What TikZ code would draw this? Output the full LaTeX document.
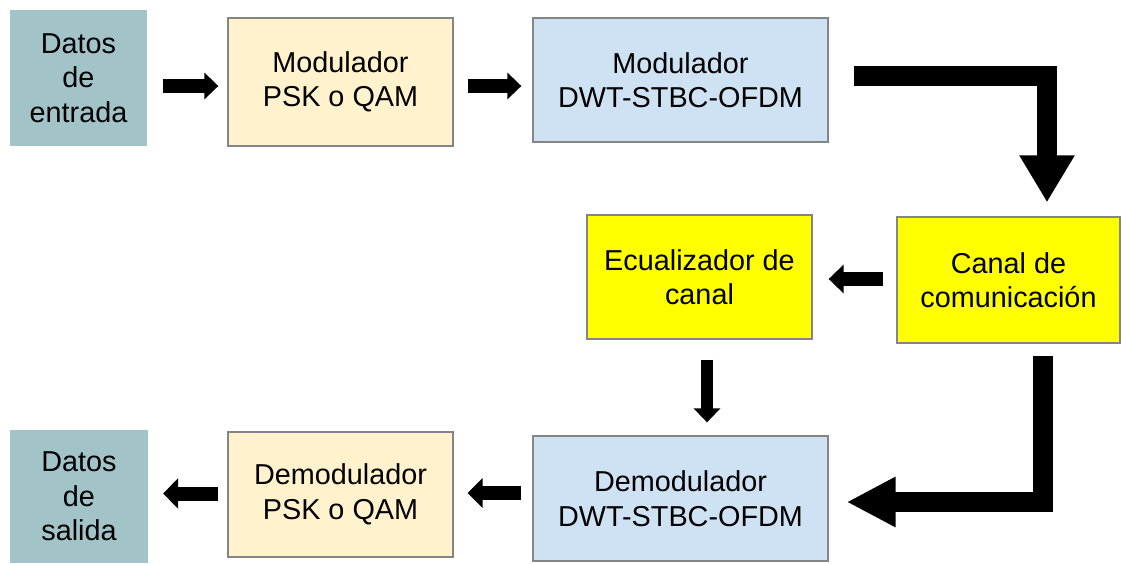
\documentclass[tikz,border=0pt]{standalone}
\usepackage{fontspec}
\setmainfont{Liberation Sans}
\usetikzlibrary{arrows.meta,calc}

\definecolor{datafill}{HTML}{A2C4C9}
\definecolor{pskfill}{HTML}{FFF2CC}
\definecolor{dwtfill}{HTML}{CFE2F3}
\definecolor{chanfill}{HTML}{FFFF00}
\definecolor{boxline}{HTML}{858585}

\tikzset{
  block/.style={rectangle, inner sep=0pt, align=center,
    font=\fontsize{28.8}{34.5}\selectfont, text=black},
  framed/.style={block, draw=boxline, line width=1.3pt},
  databox/.style={block, fill=datafill},
  pskbox/.style={framed, fill=pskfill},
  dwtbox/.style={framed, fill=dwtfill},
  chanbox/.style={framed, fill=chanfill},
  blockarrow/.style n args={3}{draw=black, line width=#1, line join=miter,
    line cap=butt, -{Triangle[width=#2, length=#3]}}
}

\begin{document}
\begin{tikzpicture}[x=1pt, y=-1pt]
  \useasboundingbox (0,0) rectangle (1122,563);

  % transmitter chain
  \node[databox, minimum width=137pt, minimum height=136pt] (in) at (78.5,78)
    {Datos\\de\\entrada};
  \node[pskbox, minimum width=225pt, minimum height=128pt] (modpsk) at (340.5,82)
    {Modulador\\PSK o QAM};
  \node[dwtbox, minimum width=295pt, minimum height=124pt] (moddwt) at (680.5,80)
    {Modulador\\DWT-STBC-OFDM};

  % channel and equaliser
  \node[chanbox, minimum width=225pt, minimum height=124pt] (ecu) at (699.5,277)
    {Ecualizador de\\canal};
  \node[chanbox, minimum width=223pt, minimum height=126pt] (canal) at (1008.5,280)
    {Canal de\\comunicación};

  % receiver chain
  \node[databox, minimum width=138pt, minimum height=133pt] (out) at (79,496.5)
    {Datos\\de\\salida};
  \node[pskbox, minimum width=225pt, minimum height=125pt] (dempsk) at (340.5,494.5)
    {Demodulador\\PSK o QAM};
  \node[dwtbox, minimum width=295pt, minimum height=125pt] (demdwt) at (680.5,498.5)
    {Demodulador\\DWT-STBC-OFDM};

  % block arrows
  \draw[blockarrow={14pt}{26pt}{14pt}]
    ($(in.east)+(16,8)$) -- ($(modpsk.west)+(-9,4)$);
  \draw[blockarrow={14pt}{26pt}{14pt}]
    ($(modpsk.east)+(14,4)$) -- ($(moddwt.west)+(-11,6)$);
  \draw[blockarrow={20pt}{52pt}{47pt}]
    ($(moddwt.east)+(25,-4.5)$) -| ($(canal.north)+(38.5,-14)$);
  \draw[blockarrow={14pt}{28pt}{15pt}]
    ($(canal.west)+(-13,-1)$) -- ($(ecu.east)+(16,2)$);
  \draw[blockarrow={12.5pt}{26pt}{14pt}]
    ($(ecu.south)+(7.5,20)$) -- ($(demdwt.north)+(26.5,-13)$);
  \draw[blockarrow={20pt}{47pt}{49pt}]
    ($(canal.south)+(34.5,12)$) |- ($(demdwt.east)+(18,3.5)$);
  \draw[blockarrow={14pt}{29pt}{15pt}]
    ($(demdwt.west)+(-11,-5.5)$) -- ($(dempsk.east)+(14,-1.5)$);
  \draw[blockarrow={14pt}{30pt}{15pt}]
    ($(dempsk.west)+(-9,-1)$) -- ($(out.east)+(15,-3)$);
\end{tikzpicture}
\end{document}
